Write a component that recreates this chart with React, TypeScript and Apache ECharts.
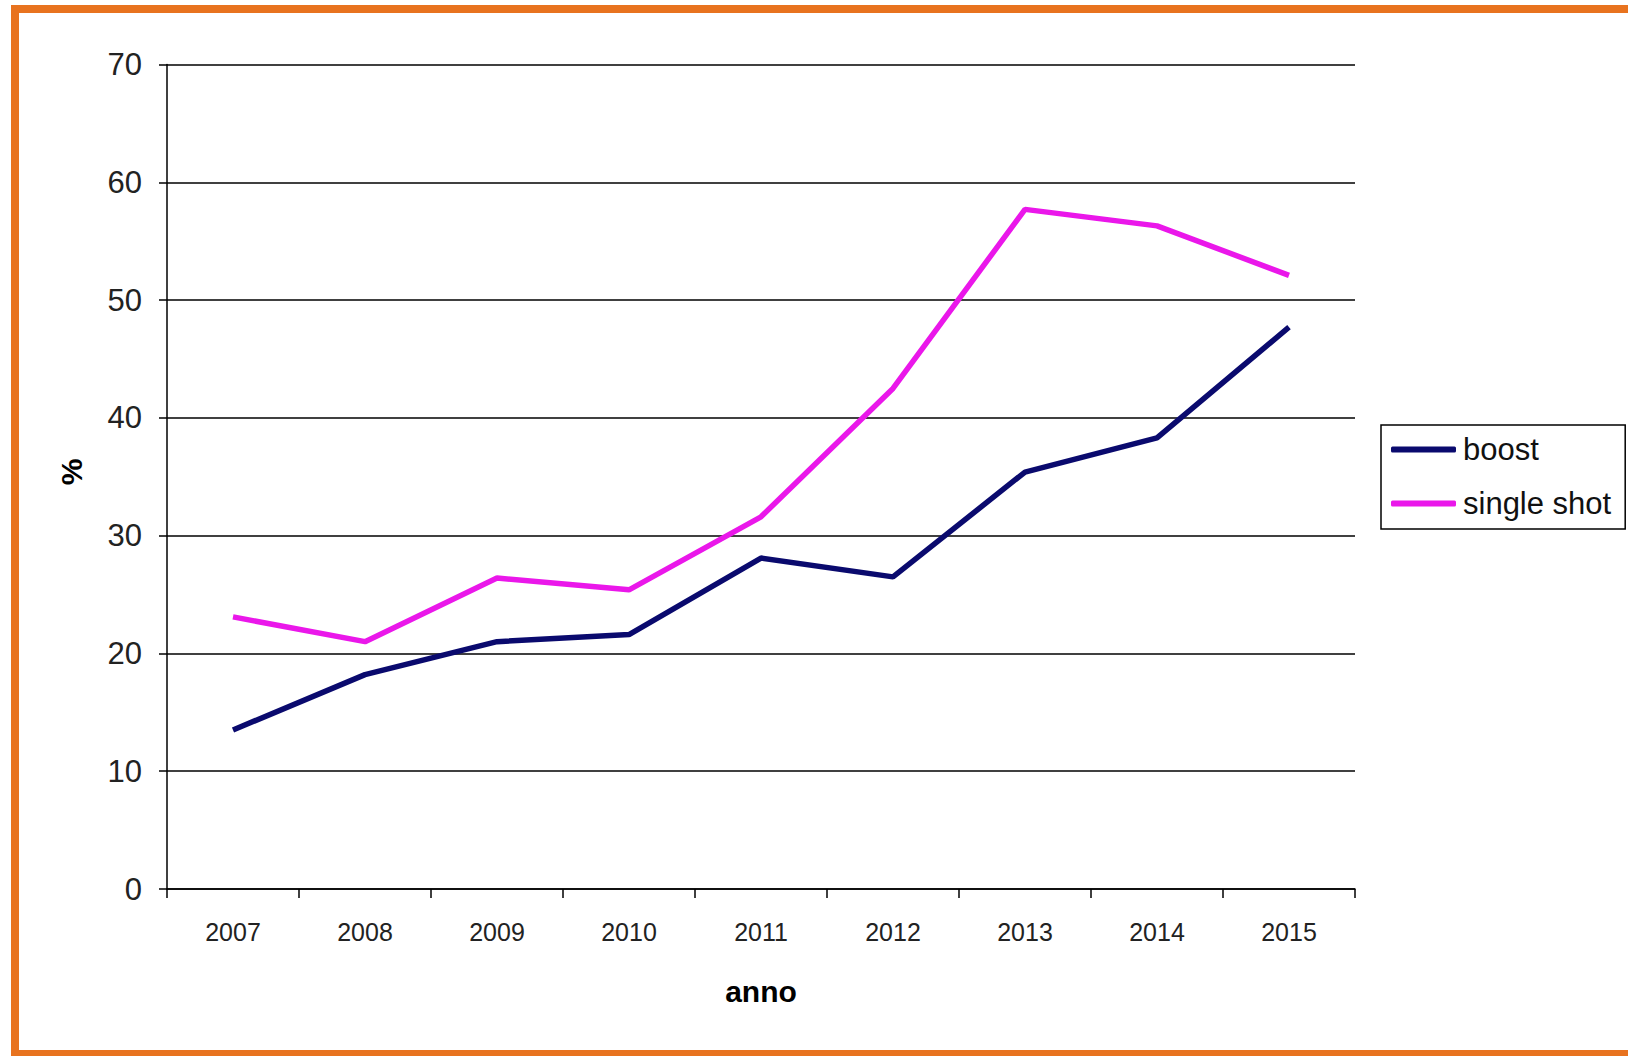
import React, { useEffect, useRef } from "react";
import * as echarts from "echarts";

const years = ["2007", "2008", "2009", "2010", "2011", "2012", "2013", "2014", "2015"];
const boost = [13.5, 18.2, 21.0, 21.6, 28.1, 26.5, 35.4, 38.3, 47.7];
const singleShot = [23.1, 21.0, 26.4, 25.4, 31.6, 42.5, 57.7, 56.3, 52.1];
const yTicks = { min: 0, max: 70, interval: 10 };

const FONT = "'Liberation Sans', Arial, sans-serif";

export default function App() {
  const ref = useRef<HTMLDivElement>(null);
  useEffect(() => {
    if (!ref.current) return;
    const chart = echarts.init(ref.current, undefined, { renderer: "svg" });
    chart.setOption({
      animation: false,
      backgroundColor: "#ffffff",
      textStyle: { fontFamily: FONT },
      graphic: [
        {
          type: "rect",
          shape: { x: 15, y: 9, width: 1700, height: 1045 },
          style: { fill: "none", stroke: "#e8731f", lineWidth: 8 },
          z: 0,
        },
        {
          type: "text",
          x: 71,
          y: 472,
          rotation: Math.PI / 2,
          style: {
            text: "%",
            font: `bold 30px ${FONT}`,
            fill: "#000",
            align: "center",
            verticalAlign: "middle",
          },
        },
      ],
      grid: { left: 167, top: 64.5, right: 273, bottom: 167, containLabel: false },
      legend: {
        orient: "vertical",
        left: 1381,
        top: 425,
        padding: [9, 14, 10, 10],
        borderColor: "#000",
        borderWidth: 1.5,
        itemWidth: 65,
        itemHeight: 6,
        itemGap: 23,
        icon: "roundRect",
        textStyle: { fontSize: 31, color: "#111", fontFamily: FONT, padding: [0, 0, 0, 2] },
        data: ["boost", "single shot"],
      },
      xAxis: {
        type: "category",
        data: years,
        name: "anno",
        nameLocation: "middle",
        nameGap: 87,
        nameTextStyle: { fontSize: 30, fontWeight: "bold", color: "#000", fontFamily: FONT },
        axisLine: { lineStyle: { color: "#000", width: 1.5 } },
        axisTick: { show: true, length: 9, lineStyle: { color: "#000", width: 1.5 } },
        axisLabel: { fontSize: 25, color: "#222", margin: 30, fontFamily: FONT },
      },
      yAxis: {
        type: "value",
        min: yTicks.min,
        max: yTicks.max,
        interval: yTicks.interval,
        axisLine: { show: true, lineStyle: { color: "#000", width: 1.5 } },
        axisTick: { show: true, length: 8, lineStyle: { color: "#000", width: 1.5 } },
        axisLabel: { fontSize: 31, color: "#222", margin: 25, fontFamily: FONT },
        splitLine: { show: true, lineStyle: { color: "#000", width: 1.5 } },
      },
      series: [
        {
          name: "boost",
          type: "line",
          data: boost,
          symbol: "none",
          lineStyle: { color: "#0a0a6e", width: 5.5 },
          itemStyle: { color: "#0a0a6e" },
        },
        {
          name: "single shot",
          type: "line",
          data: singleShot,
          symbol: "none",
          lineStyle: { color: "#ea17ea", width: 5.5 },
          itemStyle: { color: "#ea17ea" },
        },
      ],
    });
    return () => chart.dispose();
  }, []);
  return (
    <div
      ref={ref}
      style={{ position: "fixed", left: 0, top: 0, width: 1628, height: 1056 }}
    />
  );
}
